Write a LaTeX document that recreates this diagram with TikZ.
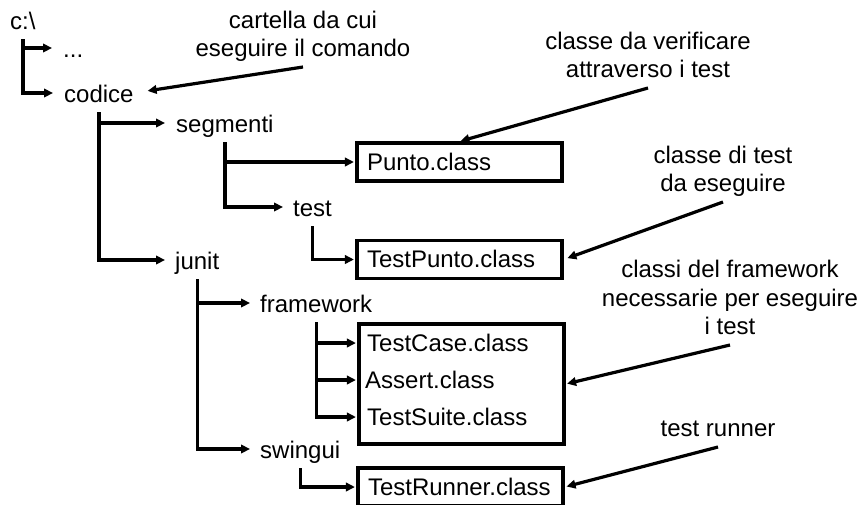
\documentclass[tikz,border=0pt]{standalone}
\usepackage{fontspec}
\setmainfont{Liberation Sans}
\usetikzlibrary{arrows.meta}
\begin{document}
\begin{tikzpicture}[x=1pt,y=-1pt,
  every node/.style={font=\fontsize{24pt}{28.5pt}\selectfont},
  tlabel/.style={anchor=west, inner xsep=0pt, inner ysep=9pt, text height=19pt, text depth=1pt},
  filebox/.style={draw, line width=3.2pt, minimum height=38pt, inner xsep=10pt, text width=185pt, align=left, text height=17pt, text depth=1pt},
  flabel/.style={anchor=west, inner sep=0pt, text height=17pt, text depth=1pt},
  note/.style={anchor=south, align=center, inner xsep=0pt, inner ysep=5pt, text depth=5pt},
  tree/.style={line width=3.4pt, -{Triangle[length=9pt,width=8.5pt]}},
  notearrow/.style={line width=3.2pt, -{Triangle[length=9pt,width=8.5pt]}}
]
\fill[white] (0,0) rectangle (862,504);
\useasboundingbox (0,0) rectangle (862,504);

% tree labels
\node[tlabel] (root) at (10,20) {c:\textbackslash};
\node[tlabel] (dots) at (63,48) {...};
\node[tlabel] (codice) at (64,93) {codice};
\node[tlabel] (segmenti) at (176,123) {segmenti};
\node[tlabel] (test) at (293,207) {test};
\node[tlabel] (junit) at (175,260) {junit};
\node[tlabel] (framework) at (260,303) {framework};
\node[tlabel] (swingui) at (260,449) {swingui};

% file boxes
\node[filebox] (punto) at (459.5,162) {Punto.class};
\node[filebox] (tpunto) at (459.5,259.5) {TestPunto.class};
\node[filebox, minimum height=120pt] (fwbox) at (461.5,384) {};
\node[flabel] (tcase) at (367,343) {TestCase.class};
\node[flabel] (assert) at (365,380) {Assert.class};
\node[flabel] (tsuite) at (367,417) {TestSuite.class};
\node[filebox] (trunner) at (460.5,487) {TestRunner.class};

% tree connectors
\draw[tree] (root.south) |- ([xshift=-11pt]dots.west);
\draw[tree] (root.south) |- ([xshift=-11pt]codice.west);
\draw[tree] (codice.south) |- ([xshift=-11pt]segmenti.west);
\draw[tree] (codice.south) |- ([xshift=-10pt]junit.west);
\draw[tree, shorten >=1.5pt] (segmenti.south) |- (punto.west);
\draw[tree] (segmenti.south) |- ([xshift=-10pt]test.west);
\draw[tree, shorten >=1.5pt] (test.south) |- (tpunto.west);
\draw[tree] (junit.south) |- ([xshift=-10pt]framework.west);
\draw[tree] (junit.south) |- ([xshift=-10pt]swingui.west);
\draw[tree, shorten >=1.5pt] (framework.south) |- (tcase -| fwbox.west);
\draw[tree, shorten >=1.5pt] (framework.south) |- (assert -| fwbox.west);
\draw[tree, shorten >=1.5pt] (framework.south) |- (tsuite -| fwbox.west);
\draw[tree, shorten >=1.5pt] (swingui.south) |- (trunner.west);

% annotations
\node[note] (n1) at (303,67) {cartella da cui\\eseguire il comando};
\node[note] (n2) at (648,88) {classe da verificare\\attraverso i test};
\node[note] (n3) at (723,202) {classe di test\\da eseguire};
\node[note] (n4) at (730,345) {classi del framework\\necessarie per eseguire\\i test};
\node[note] (n5) at (718,447) {test runner};

\draw[notearrow, shorten >=14pt] (n1.south) -- (codice.east);
\draw[notearrow, shorten >=1pt] (n2.south) -- (punto.north);
\draw[notearrow, shorten >=4pt] (n3.south) -- (tpunto.east);
\draw[notearrow, shorten >=1.5pt] (n4.south) -- (fwbox.east);
\draw[notearrow, shorten >=2pt] (n5.south) -- (trunner.east);
\end{tikzpicture}
\end{document}
